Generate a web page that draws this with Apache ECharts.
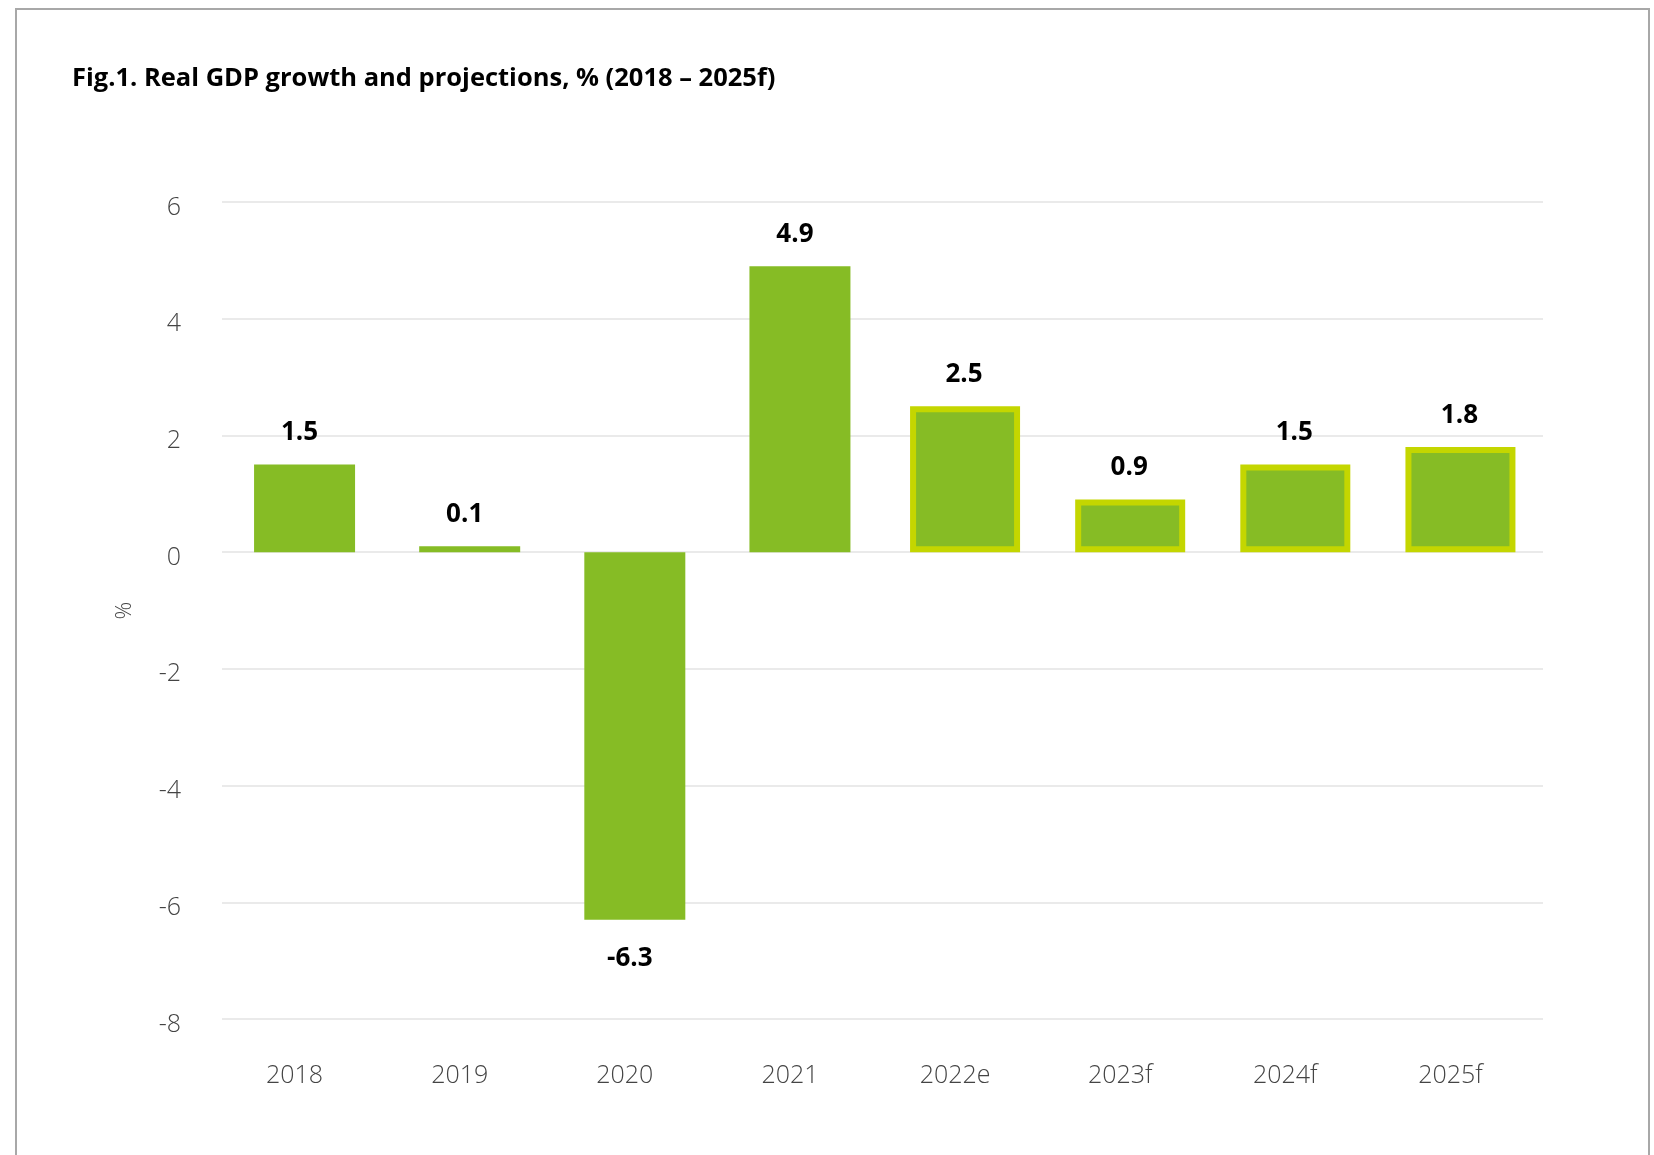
<!DOCTYPE html>
<html>
<head>
<meta charset="utf-8">
<script src="https://cdn.jsdelivr.net/npm/echarts@6/dist/echarts.min.js"></script>
<style>
html,body{margin:0;padding:0;background:#fff;}
#chart{width:1654px;height:1155px;}
</style>
</head>
<body>
<div id="chart"></div>
<script>
const categories = ['2018', '2019', '2020', '2021', '2022e', '2023f', '2024f', '2025f'];
const growth = [1.5, 0.1, -6.3, 4.9, 2.5, 0.9, 1.5, 1.8];
const yTicks = [-8, -6, -4, -2, 0, 2, 4, 6];

const GREEN = '#86BC25';
const LIME = '#C4D600';
const FONT = '"Open Sans", "Noto Sans", sans-serif';

const chart = echarts.init(document.getElementById('chart'), null, {renderer: 'canvas'});

const isProjection = c => /[ef]$/.test(c);
const labelFor = v => v < 0 ? {position: 'bottom', distance: 26} : {position: 'top', distance: 19};
const actualData = growth.map((v, i) => isProjection(categories[i]) ? null : {value: v, label: labelFor(v)});
const projData = growth.map((v, i) => isProjection(categories[i]) ? {value: v, label: labelFor(v)} : null);

const labelStyle = pad => ({
  show: true,
  fontFamily: FONT,
  fontSize: 26,
  fontWeight: 'bold',
  color: '#000',
  padding: [0, pad, 0, 0],
  formatter: p => p.value.toFixed(1)
});

chart.setOption({
  backgroundColor: '#fff',
  animation: false,
  title: {
    text: 'Fig.1. Real GDP growth and projections, % (2018 – 2025f)',
    left: 72,
    top: 66,
    padding: 0,
    textStyle: {fontFamily: FONT, fontSize: 25.5, fontWeight: 'bold', color: '#000'}
  },
  graphic: [{
    type: 'rect',
    shape: {x: 16, y: 9, width: 1633, height: 1300},
    style: {fill: 'none', stroke: '#a8a8a8', lineWidth: 2},
    silent: true
  }],
  grid: {left: 222, right: 111, top: 202, bottom: 136, containLabel: false},
  xAxis: [{
    type: 'category',
    data: categories,
    axisLine: {show: false},
    axisTick: {show: false},
    axisLabel: {fontFamily: FONT, fontSize: 25, fontWeight: 300, color: '#444', margin: 44, padding: [0, 20, 0, 0]}
  }, {
    type: 'category',
    data: categories,
    show: false
  }],
  yAxis: {
    type: 'value',
    min: yTicks[0],
    max: yTicks[yTicks.length - 1],
    interval: 2,
    name: '%',
    nameLocation: 'middle',
    nameGap: 86,
    nameRotate: 90,
    nameTextStyle: {fontFamily: FONT, fontSize: 22, fontWeight: 300, color: '#444'},
    axisLine: {show: false},
    axisTick: {show: false},
    splitLine: {lineStyle: {color: '#e3e3e3', width: 1.5}},
    axisLabel: {fontFamily: FONT, fontSize: 25, fontWeight: 300, color: '#444', margin: 41, verticalAlign: 'top', lineHeight: 11}
  },
  series: [{
    type: 'bar',
    xAxisIndex: 0,
    data: actualData,
    barWidth: 101,
    itemStyle: {color: GREEN},
    label: labelStyle(10)
  }, {
    type: 'bar',
    xAxisIndex: 1,
    data: projData,
    barWidth: 110,
    itemStyle: {color: GREEN, borderColor: LIME, borderWidth: 6},
    label: labelStyle(2)
  }]
});
</script>
</body>
</html>
